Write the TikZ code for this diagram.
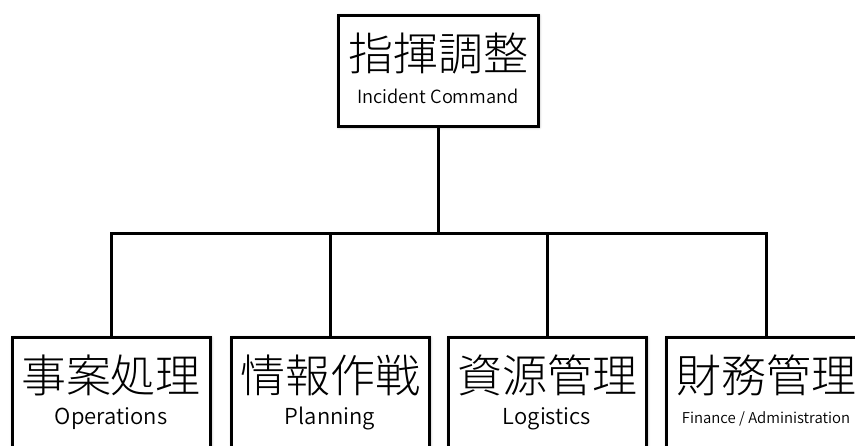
\documentclass[tikz,border=0pt]{standalone}
\usepackage{fontspec}
\newfontfamily\jpfont{Noto Sans CJK JP Light}
\newfontfamily\enfont{Noto Sans CJK JP DemiLight}
\usetikzlibrary{calc,shadows.blur}

\begin{document}
\begin{tikzpicture}[x=1pt,y=-1pt,
  unit/.style={draw,line width=3pt,fill=white,minimum width=198pt,minimum height=111pt,
    blur shadow={shadow xshift=1pt,shadow yshift=-1pt,shadow blur radius=3pt,shadow opacity=45}},
  jp/.style={font=\jpfont\fontsize{45}{45}\selectfont,inner sep=0pt},
  en/.style={font=\enfont\fontsize{22}{22}\selectfont,inner sep=0pt},
  link/.style={line width=3pt}]
\useasboundingbox (0,0) rectangle (855,445);
% command box
\node[unit,minimum width=200pt] (ic) at (438,70.5) {};
\node[jp] (ic-jp) at ($(ic.north)+(0,40)$) {指揮調整};
\node[en,font=\enfont\fontsize{18.2}{18.2}\selectfont] (ic-en) at ($(ic.north)+(0,83)$) {Incident Command};
% sections
\coordinate (bar) at (438,233);
\node[unit] (ops)  at (111,392.5) {};
\node[unit] (plan) at (330,392.5) {};
\node[unit] (log)  at (547,392.5) {};
\node[unit,minimum width=200pt] (fin) at (766,392.5) {};
\node[jp] (ops-jp)  at ($(ops.north)+(0,40)$)  {事案処理};
\node[jp] (plan-jp) at ($(plan.north)+(0,40)$) {情報作戦};
\node[jp] (log-jp)  at ($(log.north)+(0,40)$)  {資源管理};
\node[jp] (fin-jp)  at ($(fin.north)+(0,40)$)  {財務管理};
\node[en] (ops-en)  at ($(ops.north)+(0,83)$)  {Operations};
\node[en] (plan-en) at ($(plan.north)+(0,83)$) {Planning};
\node[en] (log-en)  at ($(log.north)+(0,83)$)  {Logistics};
\node[en,font=\enfont\fontsize{14.9}{14.9}\selectfont] (fin-en) at ($(fin.north)+(0,83)$) {Finance / Administration};
% tree lines
\draw[link] (ic.south) -- (ic.south |- bar);
\draw[link] (ops.north) -- (ops.north |- bar) -- (fin.north |- bar) -- (fin.north);
\draw[link] (plan.north) -- (plan.north |- bar);
\draw[link] (log.north) -- (log.north |- bar);
\end{tikzpicture}
\end{document}
